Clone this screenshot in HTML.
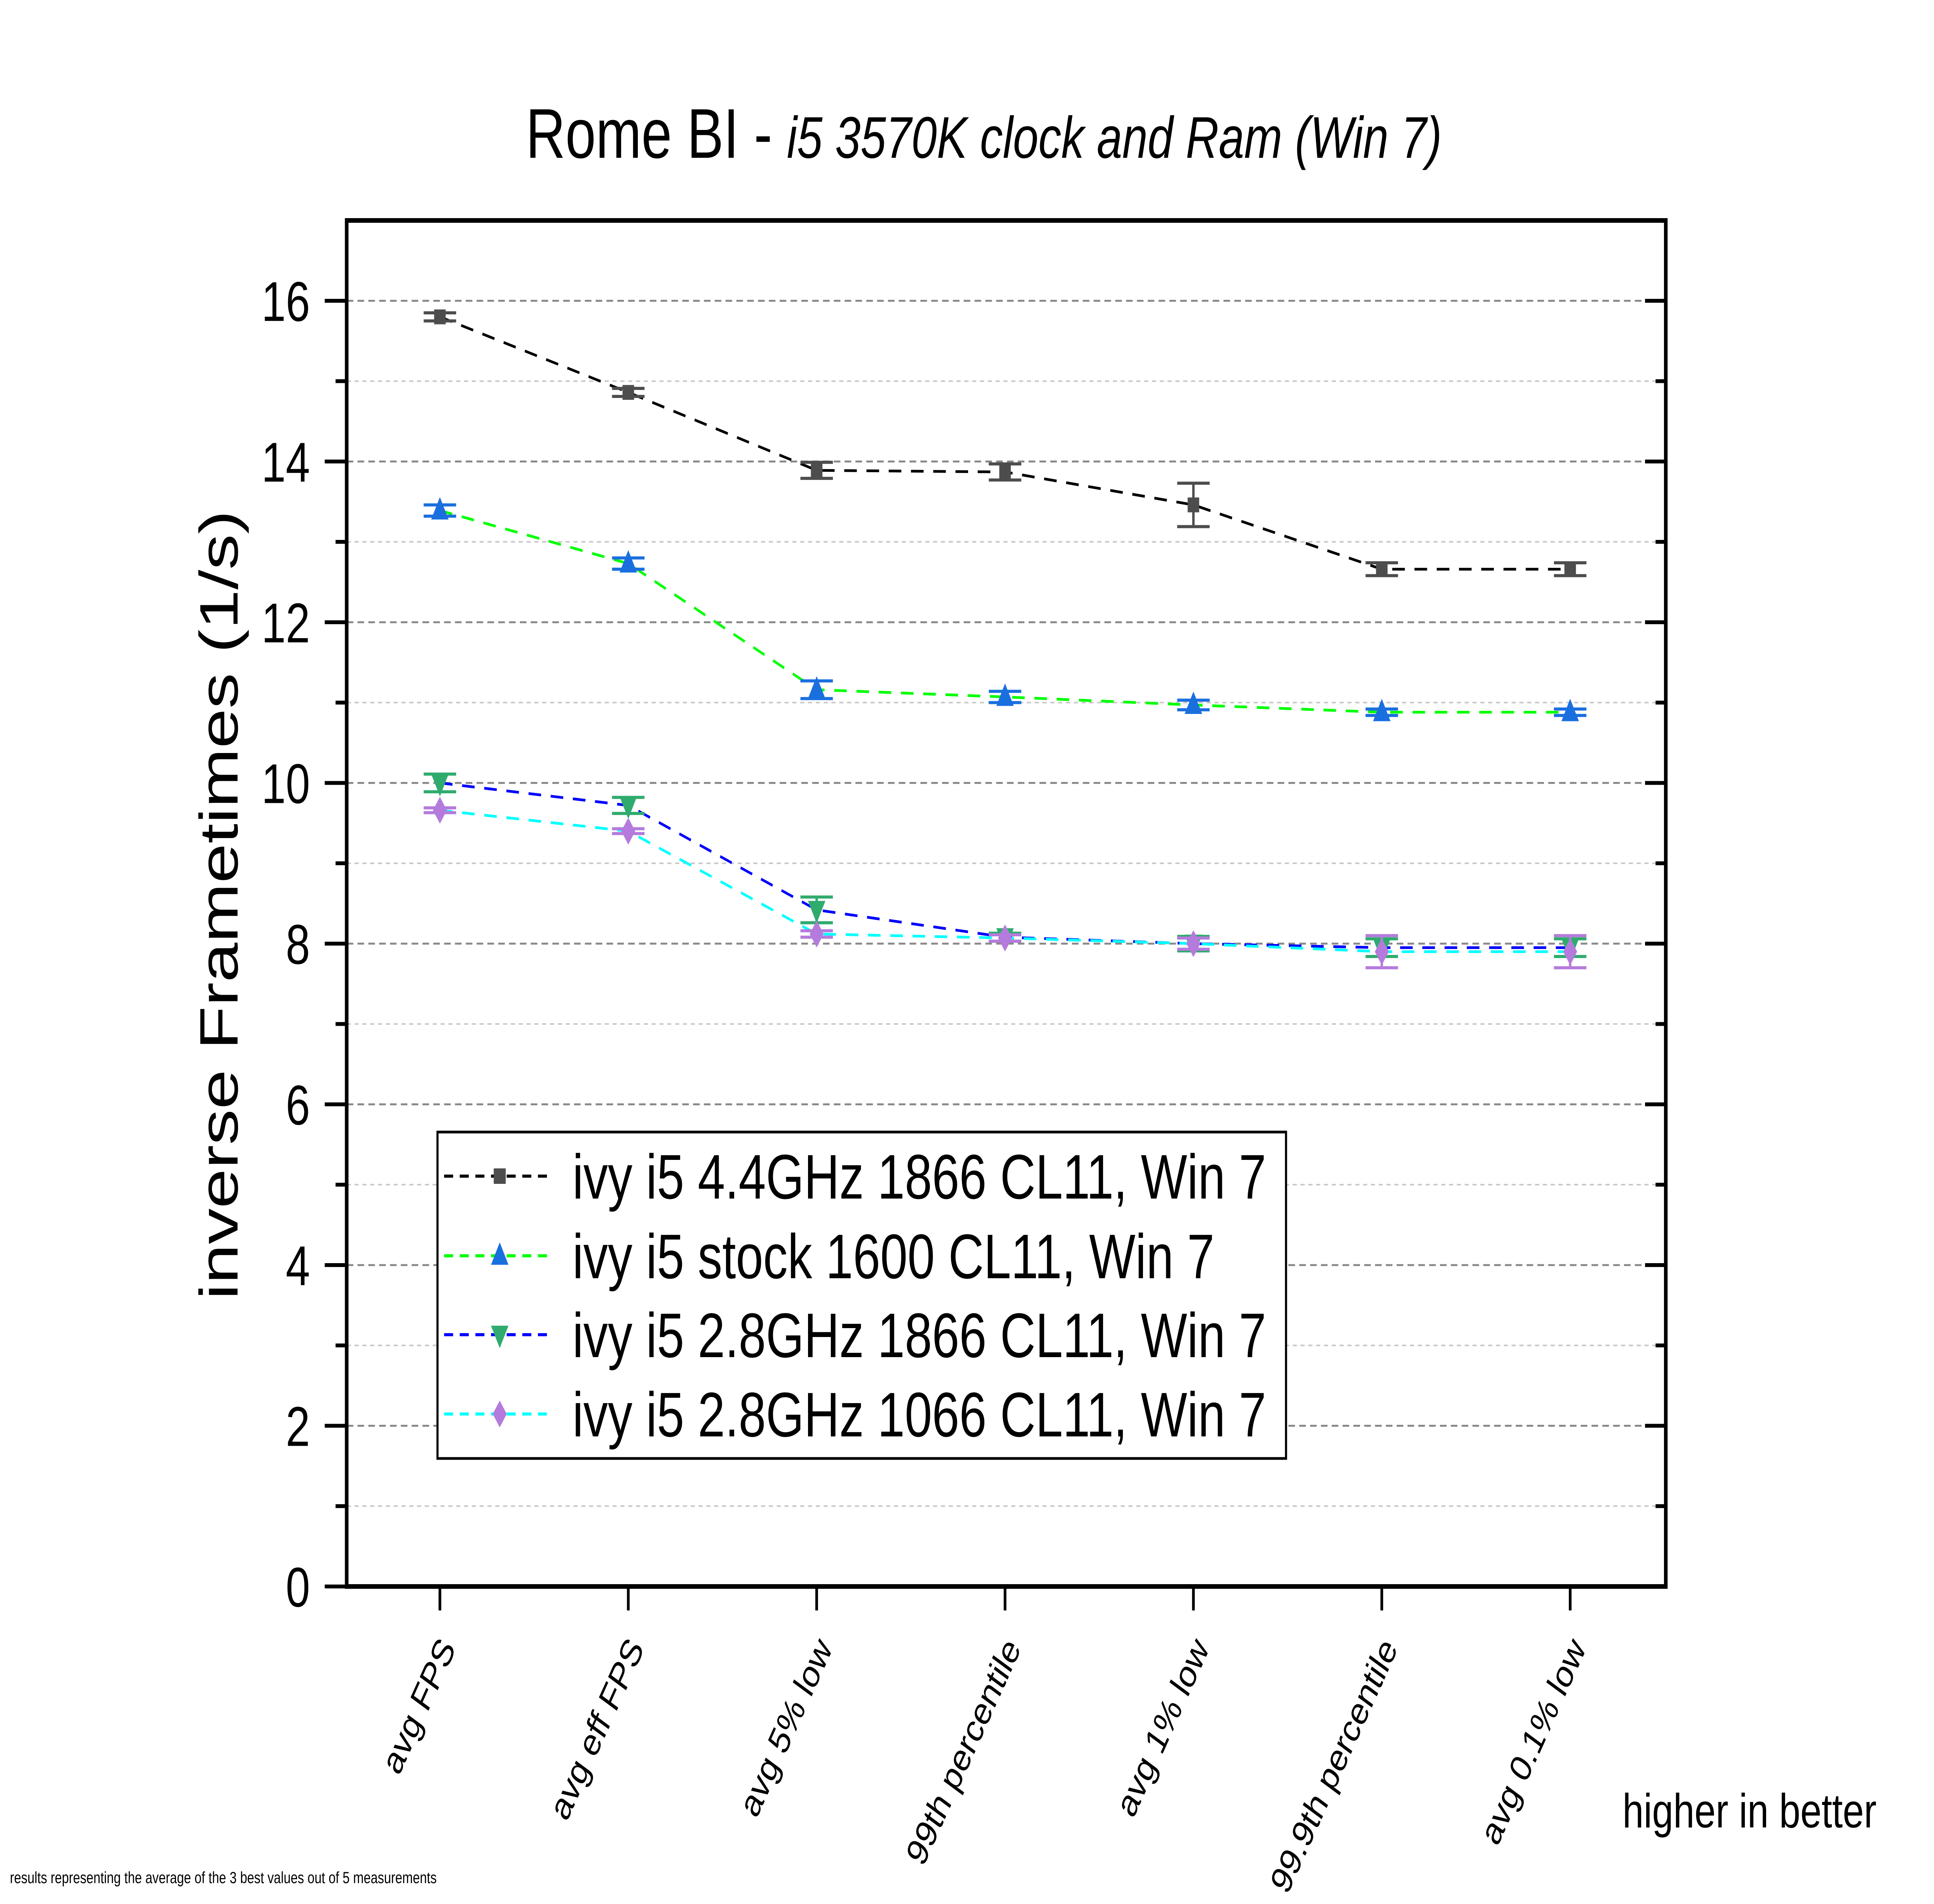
<!DOCTYPE html>
<html><head><meta charset="utf-8"><style>
html,body{margin:0;padding:0;background:#fff;overflow:hidden;width:100%;height:100%;}
svg{display:block;position:absolute;left:0;top:0;width:100vw;height:100vh;font-family:"Liberation Sans",Arial,sans-serif;}
</style></head><body>
<svg id="chart" viewBox="0 0 6432 4923" preserveAspectRatio="none" xmlns="http://www.w3.org/2000/svg">
<rect width="6432" height="4923" fill="#fff"/>
<text x="1749" y="408" font-size="182" fill="#000">Rome BI - <tspan font-style="italic" font-size="152" x="2617">i5 3570K clock and Ram (Win 7)</tspan></text>
<g id="grid"></g>
<g id="axes"></g>
<g id="series"></g>
<text transform="translate(790,2340) rotate(-90)" text-anchor="middle" font-size="180" textLength="2041" lengthAdjust="spacingAndGlyphs">inverse Frametimes (1/s)</text>
<text x="5396" y="4725" font-size="124" textLength="845" lengthAdjust="spacingAndGlyphs">higher in better</text>
<text x="33" y="4869" font-size="42">results representing the average of the 3 best values out of 5 measurements</text>
<g id="legend"></g>
</svg>
<script>
const categories=["avg FPS","avg eff FPS","avg 5% low","99th percentile","avg 1% low","99.9th percentile","avg 0.1% low"];
const seriesNames=["ivy i5 4.4GHz 1866 CL11, Win 7","ivy i5 stock 1600 CL11, Win 7","ivy i5 2.8GHz 1866 CL11, Win 7","ivy i5 2.8GHz 1066 CL11, Win 7"];
const s1=[15.80,14.86,13.89,13.87,13.46,12.66,12.66];
const e1=[0.05,0.05,0.10,0.10,0.27,0.08,0.08];
const s2=[13.39,12.73,11.16,11.07,10.97,10.88,10.88];
const e2=[0.07,0.07,0.11,0.07,0.06,0.04,0.04];
const s3=[10.00,9.72,8.42,8.08,8.00,7.95,7.95];
const e3=[0.11,0.10,0.16,0.05,0.09,0.11,0.11];
const s4=[9.66,9.40,8.12,8.07,8.00,7.90,7.90];
const e4=[0.03,0.03,0.04,0.04,0.07,0.20,0.20];
const yTicks=[0,2,4,6,8,10,12,14,16];

const NS="http://www.w3.org/2000/svg";
const L=1153,R=5540,T=570,B=4102,YMAX=17;
function X(i){return 1463+i*626.5;}
function Y(v){return B-(v/YMAX)*(B-T);}
function mk(tag,attrs,parent){const e=document.createElementNS(NS,tag);for(const k in attrs)e.setAttribute(k,attrs[k]);parent.appendChild(e);return e;}
const grid=document.getElementById('grid'),axes=document.getElementById('axes'),ser=document.getElementById('series'),leg=document.getElementById('legend');

for(let v=1;v<YMAX;v++){
  const major=v%2===0;
  const g=mk('line',{x1:L,x2:R,y1:Y(v),y2:Y(v),stroke:major?'#888':'#c8c8c8','stroke-width':major?5:4,'stroke-dasharray':major?'22,14':'14,12'},grid);
  
  
}
const fr=mk('rect',{x:L,y:T,width:R-L,height:B-T,fill:'none',stroke:'#000','stroke-width':12},axes);


for(let v=0;v<YMAX;v++){
  const major=v%2===0;
  const t=mk('line',{x1:major?L-73:L-37,x2:L,y1:Y(v),y2:Y(v),stroke:'#000','stroke-width':10},axes);
  
  
  const t2=mk('line',{x1:R,x2:major?R-69:R-34,y1:Y(v),y2:Y(v),stroke:'#000','stroke-width':10},axes);
  
  
}
yTicks.forEach(v=>{
  const tx=mk('text',{x:1031,y:Y(v)+52,'text-anchor':'end','font-size':145},axes);
  tx.textContent=String(v);
  
  
});
categories.forEach((c,i)=>{
  const t=mk('line',{x1:X(i),x2:X(i),y1:B,y2:B+62,stroke:'#000','stroke-width':9},axes);
  
  
  const tx=mk('text',{transform:`translate(${X(i)+55},${4262}) rotate(-60)`,'text-anchor':'end','font-size':100},axes);
  tx.textContent=c;
  
  
});

const vals=[s1,s2,s3,s4],errs=[e1,e2,e3,e4];
const lineCol=['#000','#00ff00','#0000ff','#00ffff'];
const mCol=['#4d4d4d','#1a6fdf','#2fab6e','#b57bdc'];
const shapes=['square','up','down','diamond'];
function marker(shape,x,y,col,size,parent){
  let e;
  if(shape==='square') e=mk('rect',{x:x-size*0.4,y:y-size*0.4,width:size*0.8,height:size*0.8,fill:col},parent);
  else if(shape==='up') e=mk('polygon',{points:`${x},${y-size*0.6} ${x-size*0.5},${y+size*0.4} ${x+size*0.5},${y+size*0.4}`,fill:col},parent);
  else if(shape==='down') e=mk('polygon',{points:`${x},${y+size*0.6} ${x-size*0.5},${y-size*0.4} ${x+size*0.5},${y-size*0.4}`,fill:col},parent);
  else e=mk('polygon',{points:`${x},${y-size*0.6} ${x-size*0.4},${y} ${x},${y+size*0.6} ${x+size*0.4},${y}`,fill:col},parent);
  return e;
}
vals.forEach((arr,s)=>{
  const g=mk('g',{},ser);
  
  
  const pts=arr.map((v,i)=>X(i)+','+Y(v)).join(' ');
  const pl=mk('polyline',{points:pts,fill:'none',stroke:lineCol[s],'stroke-width':7,'stroke-dasharray':'42,32'},g);
  
  
  arr.forEach((v,i)=>{
    const x=X(i),e=errs[s][i];
    const eb=mk('path',{d:`M${x-54},${Y(v+e)}H${x+54}M${x},${Y(v+e)}V${Y(v-e)}M${x-54},${Y(v-e)}H${x+54}`,stroke:mCol[s],'stroke-width':8,fill:'none'},g);
    
    
    const m=marker(shapes[s],x,Y(v),mCol[s],s===0?48:58,g);
    
    
  });
});
const lb=mk('rect',{x:1455,y:2927,width:2822,height:844,fill:'#fff',stroke:'#000','stroke-width':7},leg);


const ly=[3041,3247,3451,3656];
seriesNames.forEach((n,s)=>{
  const g=mk('g',{},leg);
  
  
  mk('line',{x1:1477,x2:1819,y1:ly[s],y2:ly[s],stroke:lineCol[s],'stroke-width':8,'stroke-dasharray':'30,22'},g);
  marker(shapes[s],1662,ly[s],mCol[s],s===0?50:58,g);
  const t=mk('text',{x:1904,y:ly[s]+58,'font-size':163},g);
  t.textContent=n;
});
</script>
</body></html>
